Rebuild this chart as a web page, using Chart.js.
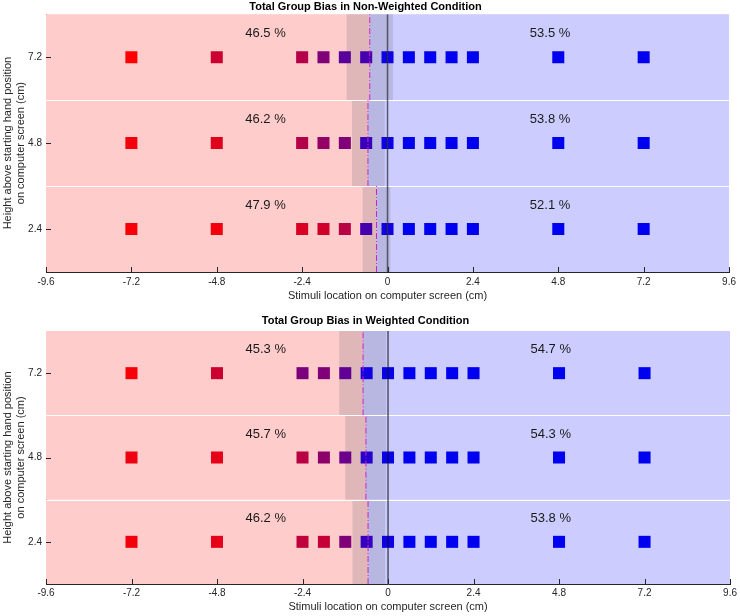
<!DOCTYPE html>
<html>
<head>
<meta charset="utf-8">
<script src="https://cdn.jsdelivr.net/npm/chart.js@4/dist/chart.umd.min.js"></script>
<style>
    body { margin: 0; background: #fff; }
    #wrap { position: relative; width: 740px; height: 616px; }
    canvas { position: absolute; left: 0; }
</style>
</head>
<body>
<div id="wrap">
    <canvas id="topChart" width="740" height="306" style="top:0"></canvas>
    <canvas id="bottomChart" width="740" height="310" style="top:306px"></canvas>
</div>
<script>
// stimulus positions (cm) and hand heights (cm)
var stimuli = [-7.2, -4.8, -2.4, -1.8, -1.2, -0.6, 0, 0.6, 1.2, 1.8, 2.4, 4.8, 7.2];
var heights = [2.4, 4.8, 7.2];
var xTickValues = [-9.6, -7.2, -4.8, -2.4, 0, 2.4, 4.8, 7.2, 9.6];
var yTickValues = [2.4, 4.8, 7.2];

// proportion of "right" answers per stimulus (used for the square colour)
var nwProp24 = [0.03, 0.05, 0.15, 0.18, 0.28, 0.72, 0.93, 1, 1, 1, 1, 1, 1];
var nwProp48 = [0.05, 0.12, 0.30, 0.42, 0.50, 0.78, 0.95, 1, 1, 1, 1, 1, 1];
var nwProp72 = [0.00, 0.20, 0.30, 0.50, 0.65, 0.72, 0.95, 1, 1, 1, 1, 1, 1];
var wProp24 = [0.05, 0.10, 0.25, 0.23, 0.50, 0.80, 0.95, 1, 1, 1, 1, 1, 1];
var wProp48 = [0.07, 0.10, 0.28, 0.45, 0.58, 0.85, 0.97, 1, 1, 1, 1, 1, 1];
var wProp72 = [0.03, 0.20, 0.52, 0.50, 0.62, 0.93, 0.97, 1, 1, 1, 1, 1, 1];

// bias point and its band, per height (2.4, 4.8, 7.2)
var nwBias = [-0.31, -0.55, -0.50];
var nwBandLo = [-0.70, -1.00, -1.15];
var nwBandHi = [0.08, -0.08, 0.15];
var wBias = [-0.56, -0.62, -0.70];
var wBandLo = [-1.00, -1.20, -1.37];
var wBandHi = [-0.08, -0.05, -0.05];

// percent left / right per height
var nwLeftPct = [47.9, 46.2, 46.5];
var nwRightPct = [52.1, 53.8, 53.5];
var wLeftPct = [46.2, 45.7, 45.3];
var wRightPct = [53.8, 54.3, 54.7];

var yMin = 1.2, yMax = 8.4, rowHalf = 1.2;
var axisColor = '#262626';
Chart.defaults.font.family = '"Liberation Sans", Arial, Helvetica, sans-serif';

function propColor(p) {
    var r = Math.round(255 * (1 - p));
    var b = Math.round(240 * p);
    return 'rgb(' + r + ',0,' + b + ')';
}

function fmt(v) {
    return v === 0 ? '0' : v.toFixed(1);
}

// backgrounds, row separators, percentage text and inward ticks
var biasPlugin = {
    id: 'biasPlugin',
    beforeDatasetsDraw: function (chart) {
        var c = chart.config.options.plugins.biasPlugin;
        var ctx = chart.ctx, xs = chart.scales.x, ys = chart.scales.y;
        var left = xs.getPixelForValue(-9.6), right = xs.getPixelForValue(9.6);
        ctx.save();
        for (var i = 0; i < heights.length; i++) {
            var top = ys.getPixelForValue(heights[i] + rowHalf);
            var bot = ys.getPixelForValue(heights[i] - rowHalf);
            var bx = xs.getPixelForValue(c.bias[i]);
            ctx.fillStyle = '#ffcccc';
            ctx.fillRect(left, top, bx - left, bot - top);
            ctx.fillStyle = '#ccccff';
            ctx.fillRect(bx, top, right - bx, bot - top);
            var lo = xs.getPixelForValue(c.lo[i]), hi = xs.getPixelForValue(c.hi[i]);
            ctx.fillStyle = 'rgba(100,100,110,0.2)';
            ctx.fillRect(lo, top, hi - lo, bot - top);
        }
        ctx.strokeStyle = '#ffffff';
        ctx.lineWidth = 1;
        for (var j = 1; j < heights.length; j++) {
            var yy = Math.round(ys.getPixelForValue(heights[j] - rowHalf)) + 0.5;
            ctx.beginPath();
            ctx.moveTo(left, yy);
            ctx.lineTo(right, yy);
            ctx.stroke();
        }
        ctx.restore();
    },
    afterDatasetsDraw: function (chart) {
        var c = chart.config.options.plugins.biasPlugin;
        var ctx = chart.ctx, xs = chart.scales.x, ys = chart.scales.y;
        ctx.save();
        ctx.font = '13px "Liberation Sans", Arial, sans-serif';
        ctx.fillStyle = '#1a1a1a';
        ctx.textAlign = 'left';
        ctx.textBaseline = 'middle';
        for (var i = 0; i < heights.length; i++) {
            var ty = ys.getPixelForValue(heights[i] + 0.67);
            ctx.fillText(c.leftPct[i].toFixed(1) + ' %', xs.getPixelForValue(-4), ty);
            ctx.fillText(c.rightPct[i].toFixed(1) + ' %', xs.getPixelForValue(4), ty);
        }
        // inward tick marks
        ctx.strokeStyle = axisColor;
        ctx.lineWidth = 1;
        var b = chart.chartArea.bottom, l = chart.chartArea.left;
        xTickValues.forEach(function (v) {
            var px = Math.round(xs.getPixelForValue(v)) + 0.5;
            ctx.beginPath();
            ctx.moveTo(px, b);
            ctx.lineTo(px, b - 5);
            ctx.stroke();
        });
        yTickValues.forEach(function (v) {
            var py = Math.round(ys.getPixelForValue(v)) + 0.5;
            ctx.beginPath();
            ctx.moveTo(l, py);
            ctx.lineTo(l + 5, py);
            ctx.stroke();
        });
        ctx.restore();
    }
};

function makeChart(id, cfg) {
    var datasets = [];
    var props = [cfg.p24, cfg.p48, cfg.p72];

    // dash-dot bias lines, one per row
    for (var i = 0; i < heights.length; i++) {
        datasets.push({
            type: 'scatter',
            data: [{x: cfg.bias[i], y: heights[i] - rowHalf}, {x: cfg.bias[i], y: heights[i] + rowHalf}],
            showLine: true,
            borderColor: '#cc22cc',
            borderWidth: 1,
            borderDash: [6, 2, 1, 2],
            pointRadius: 0,
            order: 0
        });
    }
    // line at zero
    datasets.push({
        type: 'scatter',
        data: [{x: 0, y: yMin}, {x: 0, y: yMax}],
        showLine: true,
        borderColor: cfg.zeroColor,
        borderWidth: cfg.zeroWidth,
        pointRadius: 0,
        order: 0
    });
    // stimulus squares
    for (var k = 0; k < heights.length; k++) {
        let h = heights[k];
        datasets.push({
            type: 'scatter',
            data: stimuli.map(function (s) { return {x: s, y: h}; }),
            pointStyle: 'rect',
            pointRadius: 8.5,
            pointHoverRadius: 8.5,
            pointBorderWidth: 0,
            pointBackgroundColor: props[k].map(propColor),
            pointBorderColor: props[k].map(propColor),
            order: 1
        });
    }

    return new Chart(document.getElementById(id), {
        type: 'scatter',
        data: {datasets: datasets},
        options: {
            responsive: false,
            animation: false,
            devicePixelRatio: 1,
            layout: {padding: {left: 0, right: 9, top: 0, bottom: 0}},
            plugins: {
                legend: {display: false},
                tooltip: {enabled: false},
                title: {
                    display: true,
                    text: cfg.title,
                    color: '#000',
                    font: {size: 11, weight: 'bold'},
                    padding: cfg.titlePad
                },
                biasPlugin: {
                    bias: cfg.bias, lo: cfg.lo, hi: cfg.hi,
                    leftPct: cfg.leftPct, rightPct: cfg.rightPct
                }
            },
            scales: {
                x: {
                    type: 'linear',
                    min: -9.6,
                    max: 9.6,
                    afterBuildTicks: function (s) { s.ticks = xTickValues.map(function (v) { return {value: v}; }); },
                    afterFit: function (s) { s.height = cfg.xHeight; },
                    grid: {display: false, drawTicks: false},
                    border: {display: true, color: axisColor, width: 1},
                    ticks: {
                        autoSkip: false, maxRotation: 0, padding: cfg.tickPad,
                        color: axisColor, font: {size: 10},
                        callback: function (v) { return fmt(v); }
                    },
                    title: {
                        display: true,
                        text: 'Stimuli location on computer screen (cm)',
                        color: axisColor,
                        font: {size: 11},
                        padding: {top: 0, bottom: cfg.xTitlePad}
                    }
                },
                y: {
                    type: 'linear',
                    min: yMin,
                    max: yMax,
                    afterBuildTicks: function (s) { s.ticks = yTickValues.map(function (v) { return {value: v}; }); },
                    afterFit: function (s) { s.width = 46; },
                    grid: {display: false, drawTicks: false},
                    border: {display: true, color: axisColor, width: 1},
                    ticks: {
                        padding: 4, color: axisColor, font: {size: 10},
                        callback: function (v) { return fmt(v); }
                    },
                    title: {
                        display: true,
                        text: ['Height above starting hand position', 'on computer screen (cm)'],
                        color: axisColor,
                        font: {size: 11},
                        padding: {top: 1.5, bottom: 0}
                    }
                }
            }
        },
        plugins: [biasPlugin]
    });
}

makeChart('topChart', {
    title: 'Total Group Bias in Non-Weighted Condition',
    p24: nwProp24, p48: nwProp48, p72: nwProp72,
    bias: nwBias, lo: nwBandLo, hi: nwBandHi,
    leftPct: nwLeftPct, rightPct: nwRightPct,
    titlePad: {top: 0, bottom: 1},
    xHeight: 34, tickPad: 4, xTitlePad: 3,
    zeroColor: 'rgba(50,50,60,0.75)', zeroWidth: 1.5
});

makeChart('bottomChart', {
    title: 'Total Group Bias in Weighted Condition',
    p24: wProp24, p48: wProp48, p72: wProp72,
    bias: wBias, lo: wBandLo, hi: wBandHi,
    leftPct: wLeftPct, rightPct: wRightPct,
    titlePad: {top: 8, bottom: 3.8},
    xHeight: 32, tickPad: 3, xTitlePad: 2.4,
    zeroColor: '#111111', zeroWidth: 1
});
</script>
</body>
</html>
